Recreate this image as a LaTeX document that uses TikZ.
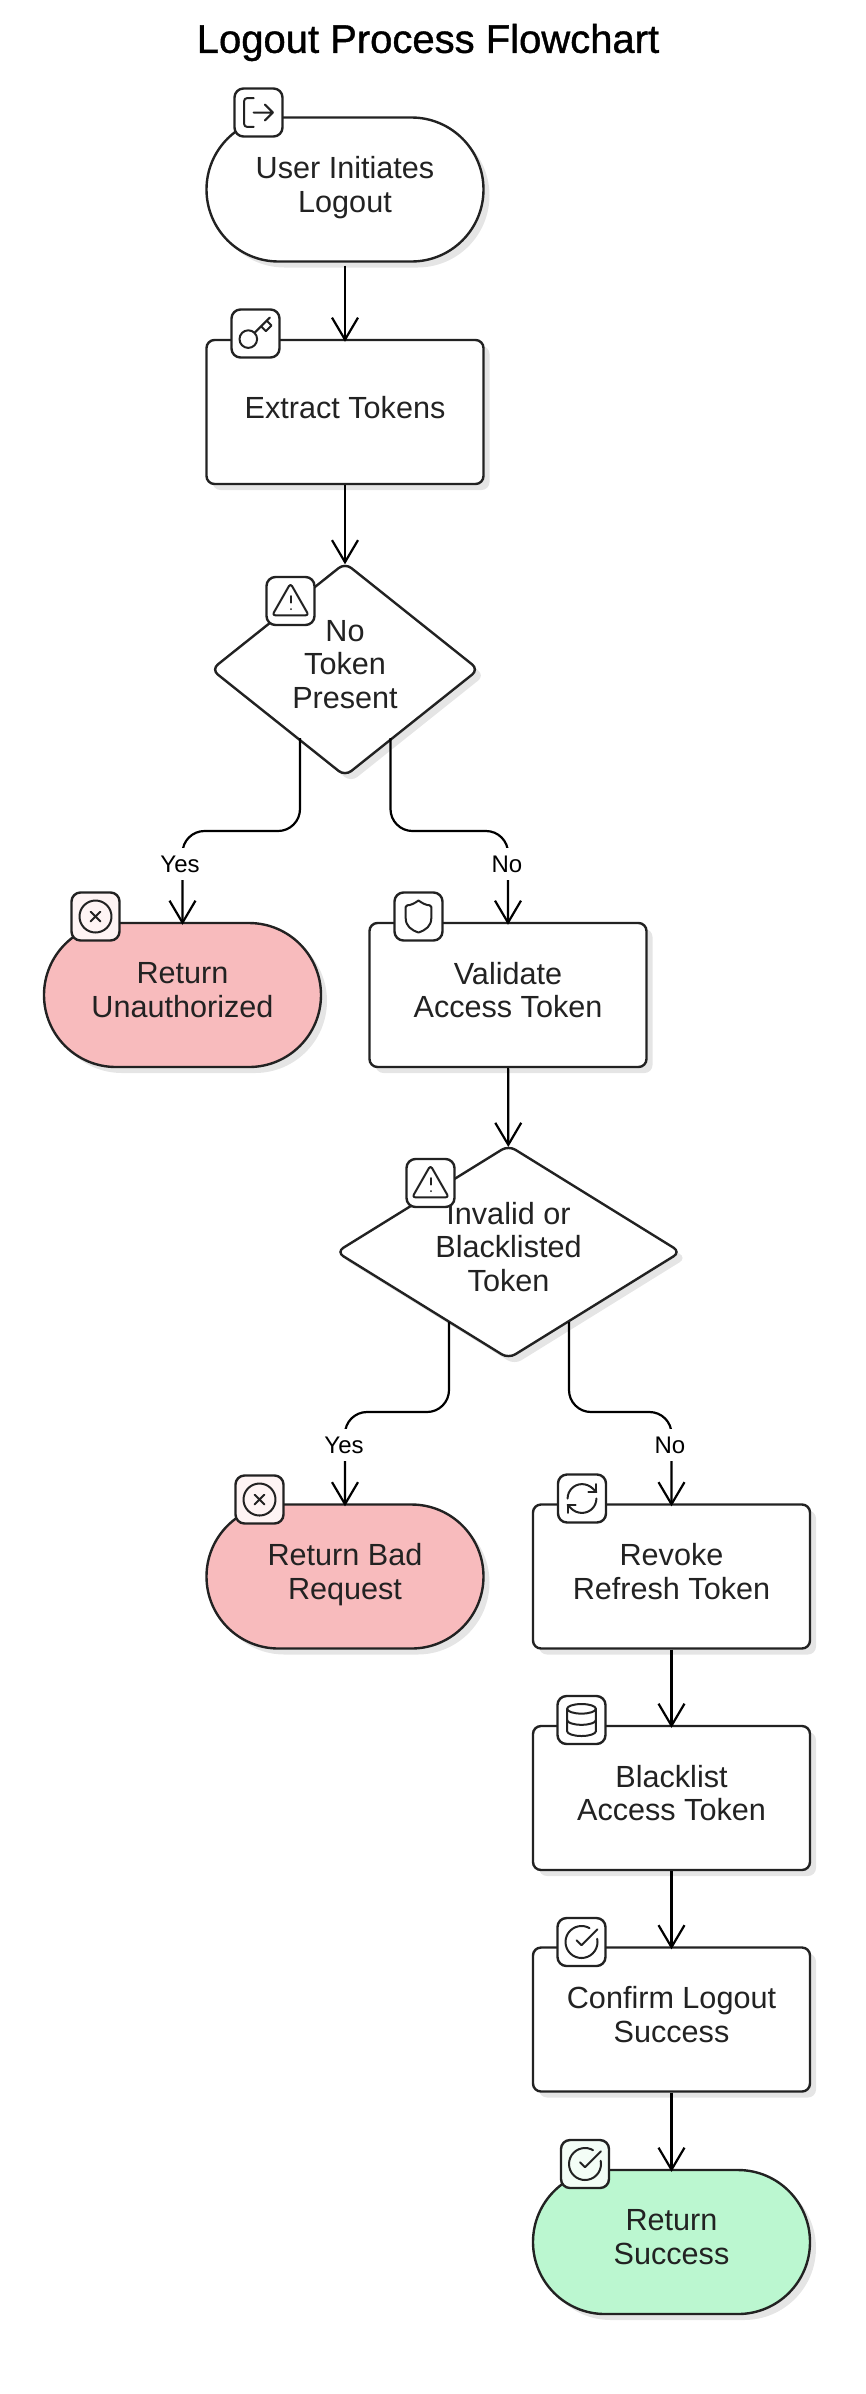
\documentclass[tikz,border=0pt]{standalone}
\usepackage{fontspec}
\setmainfont{Liberation Sans}
\newfontfamily\titlefont[RawFeature={embolden=1}]{Liberation Sans}
\usetikzlibrary{shapes.geometric,arrows.meta,shadows}
\definecolor{inkline}{HTML}{222222}
\definecolor{redfill}{HTML}{F8BBBD}
\definecolor{greenfill}{HTML}{BBF7D0}
\definecolor{redtint}{HTML}{FEF4F4}
\definecolor{greentint}{HTML}{F3FDF6}

\begin{document}
\begin{tikzpicture}[x=1pt,y=-1pt]
% Node style
\tikzset{
    shade/.style={drop shadow={shadow xshift=6pt,shadow yshift=-6pt,fill=black!10,opacity=1}},
    basenode/.style={draw=inkline,line width=2.4pt,fill=white,text=inkline,align=center,inner sep=0pt,
        font=\fontsize{30.6}{33.6}\selectfont,shade,
        execute at begin node={\rule{0pt}{23pt}},execute at end node={\rule[-10.5pt]{0pt}{10.5pt}}},
    procbox/.style={basenode,rectangle,rounded corners=8pt,minimum width=277pt,minimum height=144pt},
    endbox/.style={basenode,rectangle,rounded corners=72pt,minimum width=277pt,minimum height=144pt},
    checkbox/.style={basenode,diamond,rounded corners=8pt},
    iconbox/.style={draw=inkline,line width=2.4pt,fill=white,rectangle,rounded corners=9pt,
        minimum size=48pt,inner sep=0pt},
    edgelabel/.style={fill=white,inner sep=0pt,minimum height=32pt,font=\fontsize{24}{26}\selectfont},
    flow/.style={draw=black,line width=2.2pt,shorten >=-3pt,-{Straight Barb[length=22pt,width=26pt,line width=2.2pt]}},
    glyph/.style={x=1.6pt,y=-1.6pt,shift={(-12,-12)},draw=inkline,line width=2pt,line cap=round,line join=round},
    pics/logouticon/.style={code={\begin{scope}[glyph]
        \draw[rounded corners=3pt] (9,21) -- (3,21) -- (3,3) -- (9,3);
        \draw (16,17) -- (21,12) -- (16,7) (21,12) -- (9,12);
    \end{scope}}},
    pics/keyicon/.style={code={\begin{scope}[glyph]
        \draw (7.5,15.5) circle[radius=5.5];
        \draw (21,2) -- (11.4,11.6) (15.5,7.5) -- (18.5,10.5) -- (22,7) -- (19,4);
    \end{scope}}},
    pics/warnicon/.style={code={\begin{scope}[glyph]
        \draw[rounded corners=3.2pt] (12,0.97) -- (23.44,21) -- (0.56,21) -- cycle;
        \draw (12,9) -- (12,13) (12,17) -- (12,17.1);
    \end{scope}}},
    pics/crossicon/.style={code={\begin{scope}[glyph]
        \draw (12,12) circle[radius=10];
        \draw (15,9) -- (9,15) (9,9) -- (15,15);
    \end{scope}}},
    pics/shieldicon/.style={code={\begin{scope}[glyph]
        \draw (20,13) .. controls (20,18) and (16.5,20.5) .. (12,22) .. controls (7.5,20.5) and (4,18) .. (4,13)
            -- (4,6) .. controls (4,5.4) and (4.4,5) .. (5,5) .. controls (7,5) and (9.5,3.8) .. (12,2)
            .. controls (14.5,3.8) and (17,5) .. (19,5) .. controls (19.6,5) and (20,5.4) .. (20,6) -- cycle;
    \end{scope}}},
    pics/refreshicon/.style={code={\begin{scope}[glyph]
        \draw (3,12) arc[start angle=180,end angle=270,radius=9] .. controls (14.5,3) and (16.9,4) .. (18.74,5.74) -- (21,8);
        \draw (21,3) -- (21,8) -- (16,8);
        \draw (21,12) arc[start angle=0,end angle=90,radius=9] .. controls (9.5,21) and (7.1,20) .. (5.26,18.26) -- (3,16);
        \draw (8,16) -- (3,16) -- (3,21);
    \end{scope}}},
    pics/dbicon/.style={code={\begin{scope}[glyph]
        \draw (12,5) ellipse[x radius=9,y radius=3];
        \draw (3,5) -- (3,19) arc[start angle=180,end angle=0,x radius=9,y radius=3] -- (21,5);
        \draw (3,12) arc[start angle=180,end angle=0,x radius=9,y radius=3];
    \end{scope}}},
    pics/checkicon/.style={code={\begin{scope}[glyph]
        \draw (21.8,10) arc[start angle=-11.5,end angle=300,radius=10];
        \draw (9,11) -- (12,14) -- (22,4);
    \end{scope}}}
}
\useasboundingbox (0,0) rectangle (865,2394);
% Title
\node[font=\titlefont\fontsize{40}{44}\selectfont,text=black] (title) at (428,42.5) {Logout Process Flowchart};
% Nodes
\node[endbox] (initLogout) at (345,189.5) {User Initiates\\Logout};
\node[procbox] (extractTok) at (345,412) {Extract Tokens};
\node[checkbox,aspect=1.25,minimum width=268pt,minimum height=214pt] (noToken) at (345,669.5) {No\\Token\\Present};
\node[endbox,fill=redfill] (retUnauth) at (182.5,995) {Return\\Unauthorized};
\node[procbox] (validate) at (508,995) {Validate\\Access Token};
\node[checkbox,aspect=1.6,minimum width=345pt,minimum height=214pt] (badToken) at (508.5,1252) {Invalid or\\Blacklisted\\Token};
\node[endbox,fill=redfill] (retBad) at (345,1576.5) {Return Bad\\Request};
\node[procbox] (revoke) at (671.5,1576.5) {Revoke\\Refresh Token};
\node[procbox] (blacklist) at (671.5,1798) {Blacklist\\Access Token};
\node[procbox] (confirm) at (671.5,2019.5) {Confirm Logout\\Success};
\node[endbox,fill=greenfill] (retOk) at (671.5,2242) {Return\\Success};
% Bend points
\coordinate (noTokenY) at (300,738);
\coordinate (noTokenYb) at (182.5,831);
\coordinate (noTokenN) at (390.5,738);
\coordinate (noTokenNb) at (508,831);
\coordinate (badTokenY) at (449,1322);
\coordinate (badTokenYb) at (345,1412);
\coordinate (badTokenN) at (569,1322);
\coordinate (badTokenNb) at (671.5,1412);
% Connection
\draw[flow,shorten <=3pt] (initLogout) -- (extractTok);
\draw[flow] (extractTok) -- (noToken);
\draw[flow,rounded corners=22pt] (noTokenY) |- (noTokenYb) -- (retUnauth.north);
\draw[flow,rounded corners=22pt] (noTokenN) |- (noTokenNb) -- (validate.north);
\draw[flow] (validate) -- (badToken);
\draw[flow,rounded corners=22pt] (badTokenY) |- (badTokenYb) -- (retBad.north);
\draw[flow,rounded corners=22pt] (badTokenN) |- (badTokenNb) -- (revoke.north);
\draw[flow] (revoke) -- (blacklist);
\draw[flow] (blacklist) -- (confirm);
\draw[flow] (confirm) -- (retOk);
% Edge labels
\node[edgelabel] (yesA) at (180,864) {Yes};
\node[edgelabel] (noA) at (507,864) {No};
\node[edgelabel] (yesB) at (344,1445) {Yes};
\node[edgelabel] (noB) at (670,1445) {No};
% Icons
\node[iconbox] (icLogout) at (258.5,112.5) {};
\pic at (icLogout) {logouticon};
\node[iconbox] (icKey) at (255.5,333.5) {};
\pic at (icKey) {keyicon};
\node[iconbox] (icWarnA) at (290.5,601) {};
\pic at (icWarnA) {warnicon};
\node[iconbox,fill=redtint] (icCrossA) at (95.5,916.5) {};
\pic at (icCrossA) {crossicon};
\node[iconbox] (icShield) at (418.5,916.5) {};
\pic at (icShield) {shieldicon};
\node[iconbox] (icWarnB) at (430.5,1183) {};
\pic at (icWarnB) {warnicon};
\node[iconbox,fill=redtint] (icCrossB) at (259.5,1499.5) {};
\pic at (icCrossB) {crossicon};
\node[iconbox] (icRefresh) at (582,1498.5) {};
\pic at (icRefresh) {refreshicon};
\node[iconbox] (icDb) at (581.5,1720) {};
\pic at (icDb) {dbicon};
\node[iconbox] (icCheckA) at (581.5,1942) {};
\pic at (icCheckA) {checkicon};
\node[iconbox,fill=greentint] (icCheckB) at (585,2164) {};
\pic at (icCheckB) {checkicon};
\end{tikzpicture}
\end{document}
